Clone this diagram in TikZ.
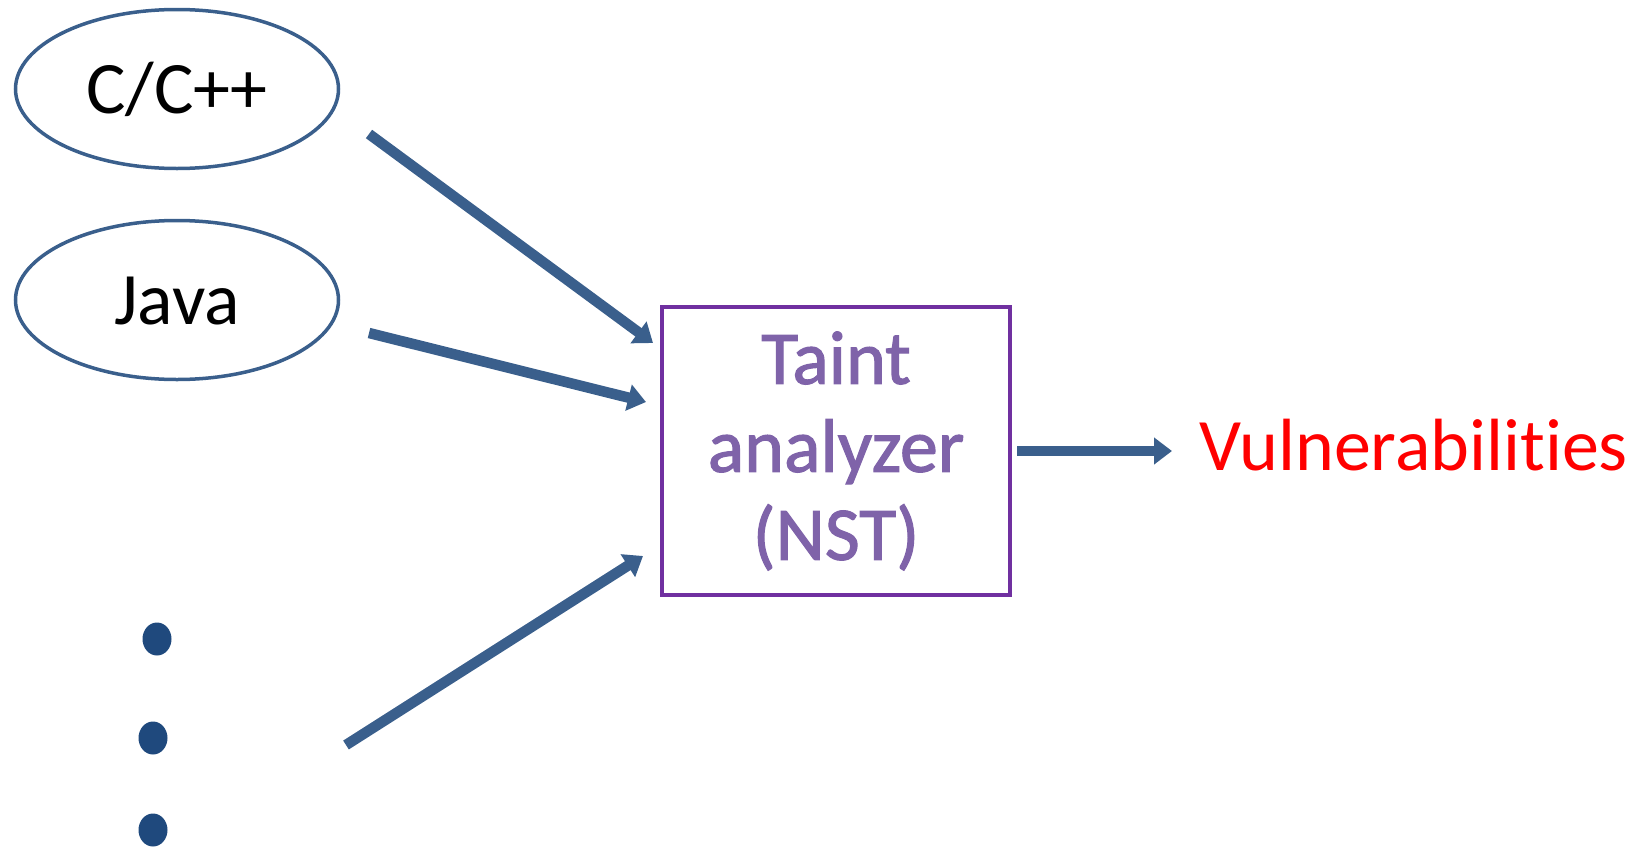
\documentclass[tikz,border=0pt]{standalone}
\usepackage{fontspec}
\setmainfont[Ligatures=NoCommon]{Carlito}
\newfontfamily\wordart[Ligatures=NoCommon,FakeBold=1.5]{Carlito}
\usetikzlibrary{shapes.geometric,arrows.meta}
\definecolor{flowblue}{HTML}{3A5F8C}
\definecolor{dotblue}{HTML}{1F497D}
\definecolor{boxpurple}{HTML}{7030A0}
\definecolor{textpurple}{HTML}{7F63A9}
\tikzset{
  lang/.style={ellipse, draw=flowblue, line width=3.5pt, minimum width=323pt,
    minimum height=159pt, inner sep=0pt, font=\fontsize{74}{80}\selectfont,
    text height=48pt, text depth=0pt},
  analyzer/.style={rectangle, draw=boxpurple, line width=4pt, minimum width=348pt,
    minimum height=288pt, inner sep=0pt, align=center, text=textpurple,
    font=\wordart\fontsize{76}{88}\selectfont},
  flow/.style={draw=flowblue, line width=10.5pt,
    -{Triangle[length=18pt,width=26pt]}},
  dot/.style={ellipse, fill=dotblue, minimum width=29pt, minimum height=33pt, inner sep=0pt},
}
\begin{document}
\begin{tikzpicture}[x=1pt,y=-1pt]
\useasboundingbox (0,0) rectangle (1643,846);

% language front ends
\node[lang] (cpp)  at (177,89)  {C/C++};
\node[lang] (java) at (177,300) {Java};

% ellipsis for further languages
\node[dot] (d1) at (157,639) {};
\node[dot] (d2) at (153,738) {};
\node[dot] (d3) at (153,830) {};

% analysis engine
\node[analyzer] (nst) at (836,451) {Taint\\analyzer\\(NST)};

% result
\node[anchor=base west, text=red, font=\fontsize{74}{80}\selectfont, inner sep=0pt]
  (vuln) at (1199,470) {Vulnerabilities};

% connector end points
\coordinate (s1) at (369,134);
\coordinate (e1) at (653,343);
\coordinate (s2) at (369,333);
\coordinate (e2) at (646,402);
\coordinate (s3) at (346,745);
\coordinate (e3) at (643,556);
\coordinate (s4) at (1017,451);
\coordinate (e4) at (1172,451);

\draw[flow] (s1) -- (e1);
\draw[flow] (s2) -- (e2);
\draw[flow] (s3) -- (e3);
\draw[flow] (s4) -- (e4);
\end{tikzpicture}
\end{document}
